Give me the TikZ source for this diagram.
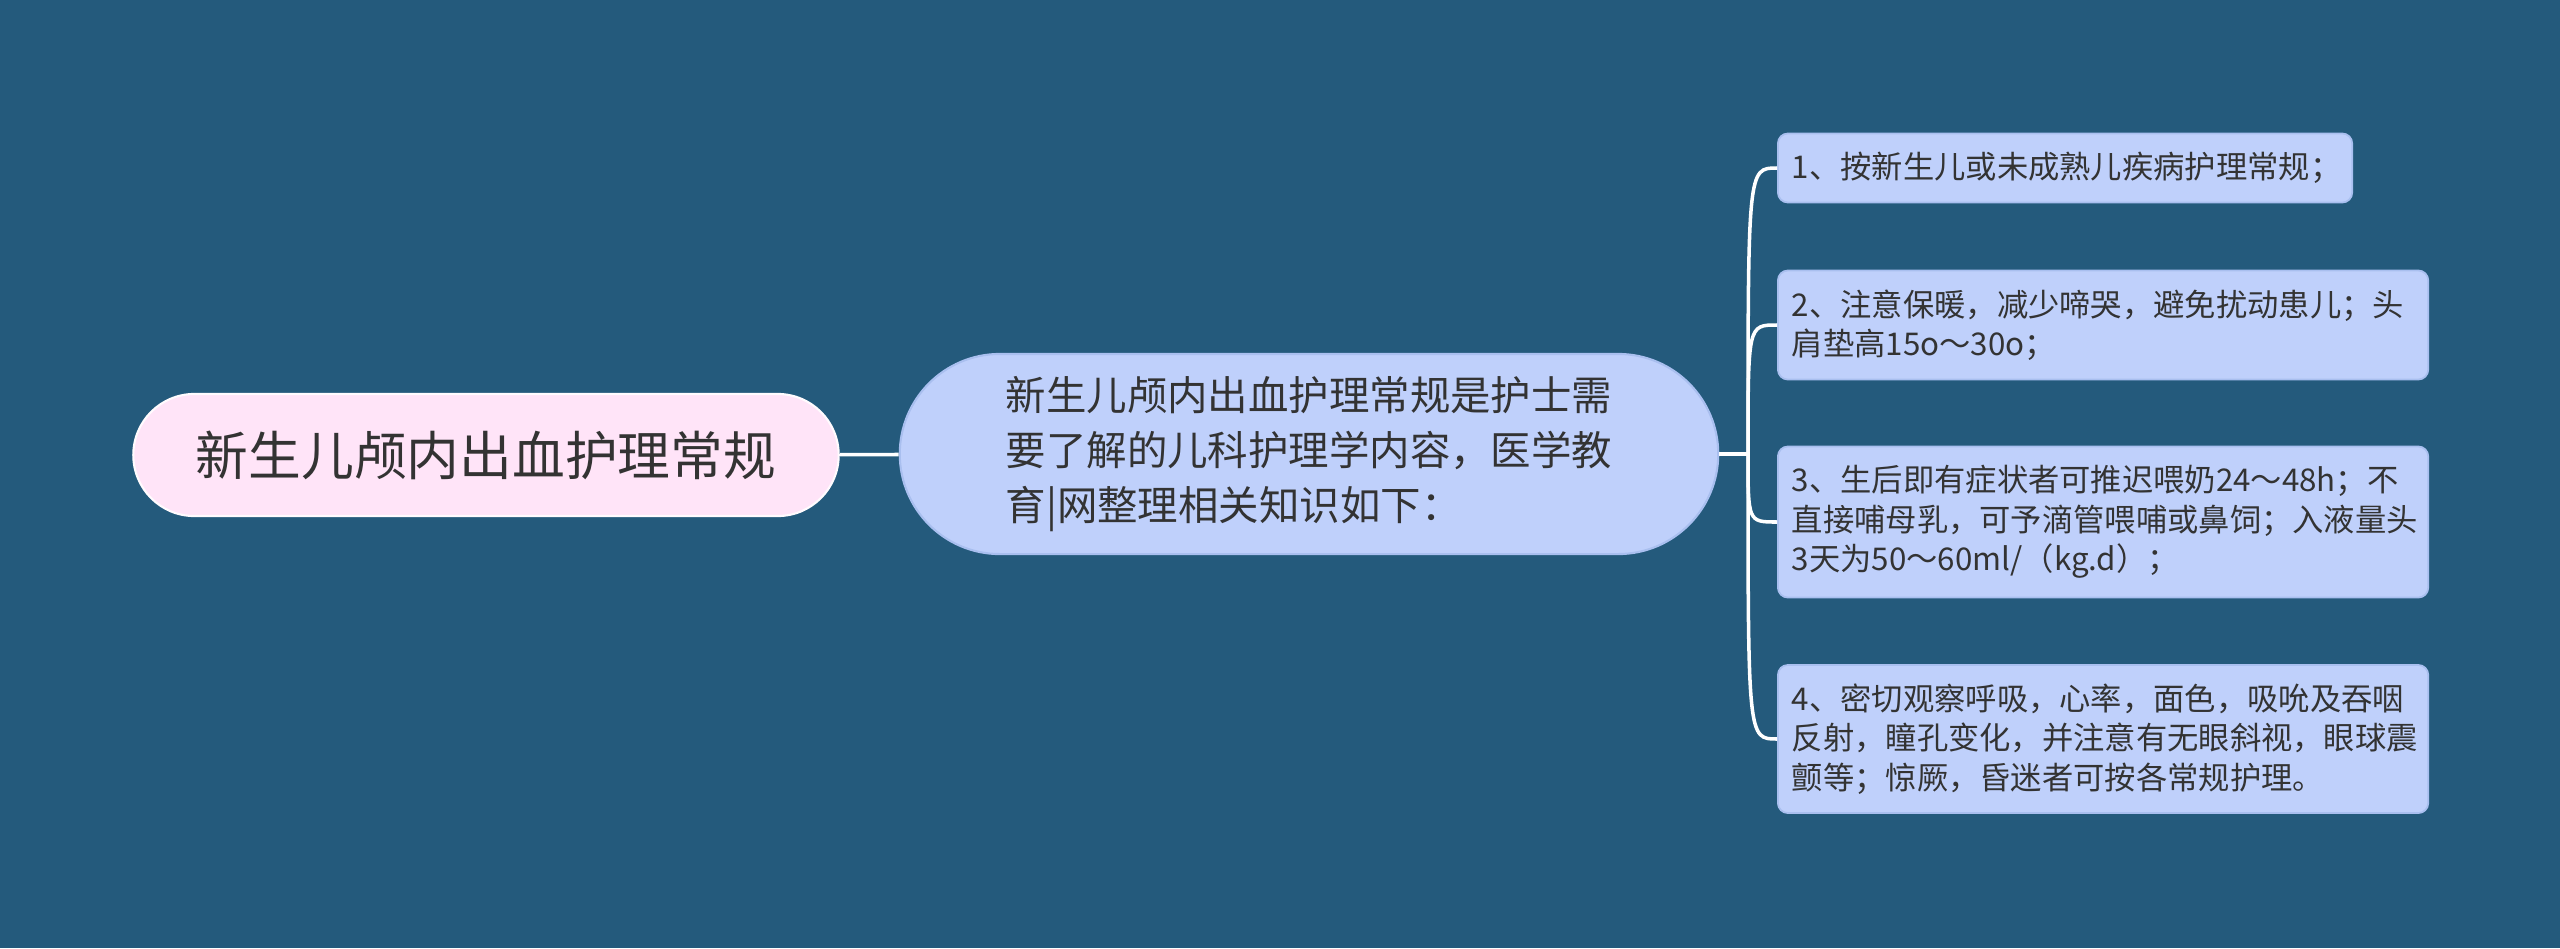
\documentclass[tikz,border=0pt]{standalone}
\usepackage{fontspec}
\setmainfont{Noto Sans CJK SC}
\usepackage{xcolor}
\usetikzlibrary{positioning}
\definecolor{bgblue}{HTML}{245A7C}
\definecolor{rootpink}{HTML}{FFE4F8}
\definecolor{nodeblue}{HTML}{BFD0FB}
\definecolor{nodeline}{HTML}{A9BFEF}
\definecolor{inkgray}{HTML}{333333}
\tikzset{
  rootbox/.style={draw=white!85!rootpink, line width=0.6pt, fill=rootpink, rounded corners=0.61cm,
    minimum width=7.05cm, minimum height=1.22cm, text=inkgray,
    font=\fontsize{15pt}{18pt}\selectfont},
  topicbox/.style={draw=nodeline, line width=0.6pt, fill=nodeblue, rounded corners=1cm,
    minimum width=8.18cm, minimum height=2cm, align=left, text=inkgray,
    font=\fontsize{11.5pt}{15.6pt}\selectfont},
  carebox/.style={draw=nodeline, line width=0.5pt, fill=nodeblue, rounded corners=0.1cm,
    anchor=west, inner xsep=0.14cm, text width=6.22cm, align=left, text=inkgray,
    font=\fontsize{8.9pt}{11.2pt}\selectfont},
  link/.style={draw=white, line width=1pt}
}
\begin{document}
\begin{tikzpicture}[x=0.01cm, y=-0.01cm]
  % background
  \fill[bgblue] (0,0) rectangle (2560,948);
  \useasboundingbox (0,0) rectangle (2560,948);

  % main nodes
  \node[rootbox] (root) at (486,455) {新生儿颅内出血护理常规};
  \node[topicbox] (summary) at (1309,454) {新生儿颅内出血护理常规是护士需\\要了解的儿科护理学内容，医学教\\育|网整理相关知识如下：};

  % care items
  \node[carebox, text width=5.46cm, minimum height=0.69cm] (care1) at (1777,168) {1、按新生儿或未成熟儿疾病护理常规；};
  \node[carebox, minimum height=1.09cm] (care2) at (1777,325) {2、注意保暖，减少啼哭，避免扰动患儿；头\\肩垫高15o～30o；};
  \node[carebox, minimum height=1.51cm] (care3) at (1777,522) {3、生后即有症状者可推迟喂奶24～48h；不\\直接哺母乳，可予滴管喂哺或鼻饲；入液量头\\3天为50～60ml/（kg.d）；};
  \node[carebox, minimum height=1.48cm] (care4) at (1777,739) {4、密切观察呼吸，心率，面色，吸吮及吞咽\\反射，瞳孔变化，并注意有无眼斜视，眼球震\\颤等；惊厥，昏迷者可按各常规护理。};

  % connectors
  \coordinate (fork) at (1748,454);
  \draw[link] (root) -- (summary);
  \draw[link] (summary.east) -- (fork);
  \foreach \n in {care1,care2,care3,care4}
    \draw[link] (fork) .. controls (fork |- \n.west) .. (\n.west);
\end{tikzpicture}
\end{document}
